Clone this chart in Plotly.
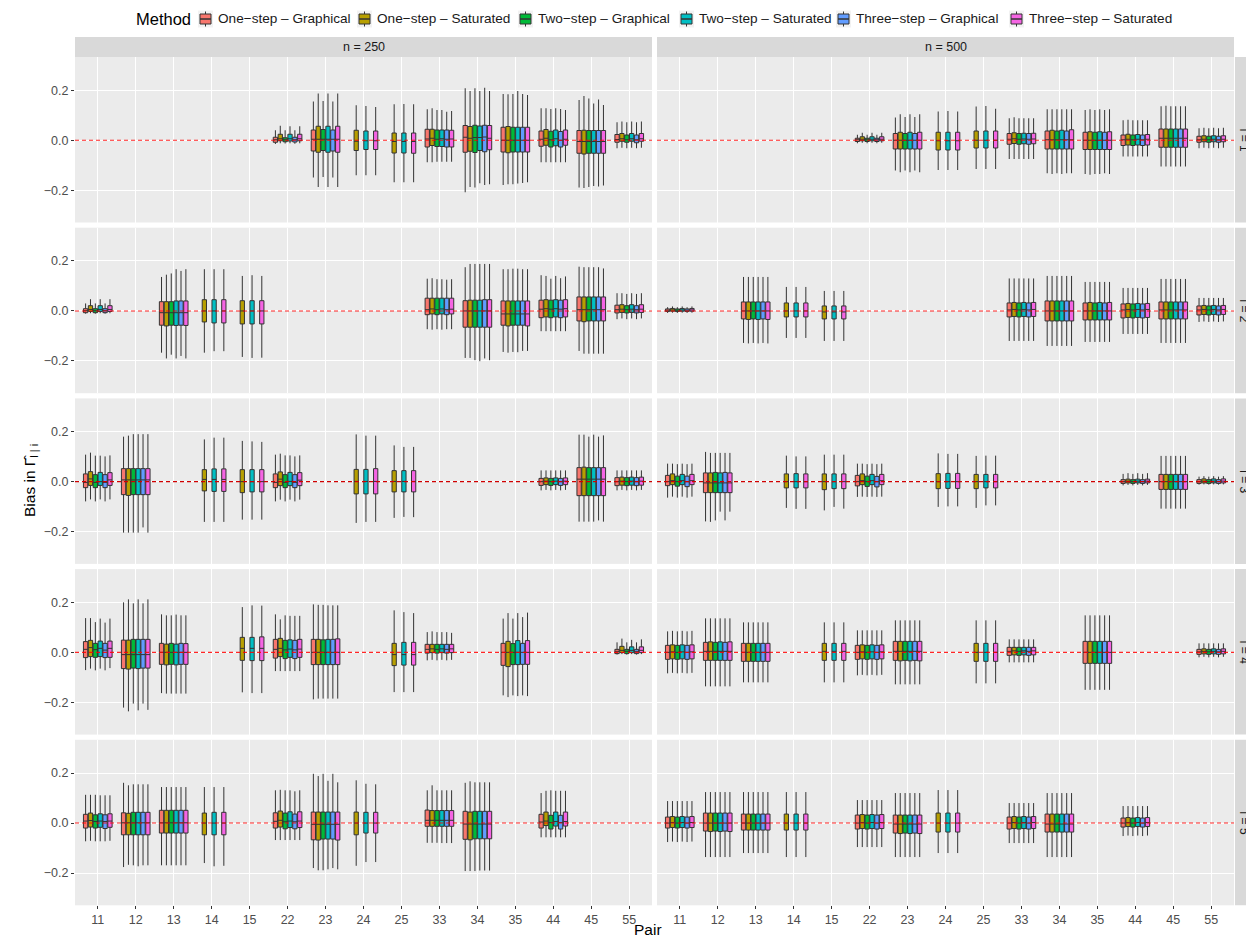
import plotly.graph_objects as go
from plotly.subplots import make_subplots

W, H = 1246, 939

pairs = ["11", "12", "13", "14", "15", "22", "23", "24", "25",
         "33", "34", "35", "44", "45", "55"]
methods = ["One\u2212step \u2013 Graphical", "One\u2212step \u2013 Saturated",
           "Two\u2212step \u2013 Graphical", "Two\u2212step \u2013 Saturated",
           "Three\u2212step \u2013 Graphical", "Three\u2212step \u2013 Saturated"]
colors = ["#F8766D", "#B79F00", "#00BA38", "#00BFC4", "#619CFF", "#F564E3"]
sample_sizes = ["n = 250", "n = 500"]
levels = ["l = 1", "l = 2", "l = 3", "l = 4", "l = 5"]

# Box summaries per pair: one entry per method, [lower whisker, q1, median, q3, upper whisker]
# None = method not reported for that pair.
l1_n250 = {
    "22": [[-0.015, -0.008, 0.002, 0.012, 0.040], [-0.012, -0.002, 0.006, 0.024, 0.058],
           [-0.013, -0.006, 0.002, 0.010, 0.040], [-0.012, -0.003, 0.006, 0.024, 0.056],
           [-0.014, -0.007, 0.002, 0.012, 0.040], [-0.012, -0.002, 0.006, 0.024, 0.056]],
    "23": [[-0.149, -0.043, 0.004, 0.041, 0.155], [-0.187, -0.048, 0.004, 0.056, 0.187],
           [-0.147, -0.041, 0.004, 0.043, 0.157], [-0.187, -0.048, 0.004, 0.056, 0.187],
           [-0.149, -0.043, 0.004, 0.041, 0.155], [-0.187, -0.048, 0.004, 0.056, 0.187]],
    "24": [None, [-0.140, -0.041, -0.004, 0.040, 0.140], None,
           [-0.140, -0.037, -0.002, 0.037, 0.137], None, [-0.140, -0.037, -0.002, 0.037, 0.133]],
    "25": [None, [-0.168, -0.051, -0.005, 0.029, 0.144], None,
           [-0.168, -0.051, -0.005, 0.029, 0.145], None, [-0.168, -0.052, -0.005, 0.029, 0.144]],
    "33": [[-0.088, -0.027, 0.005, 0.044, 0.124], [-0.088, -0.021, 0.008, 0.044, 0.128],
           [-0.086, -0.025, 0.004, 0.041, 0.121], [-0.086, -0.025, 0.006, 0.041, 0.121],
           [-0.086, -0.027, 0.004, 0.041, 0.114], [-0.086, -0.027, 0.005, 0.040, 0.117]],
    "34": [[-0.208, -0.048, 0.012, 0.059, 0.208], [-0.187, -0.044, 0.008, 0.055, 0.197],
           [-0.189, -0.049, 0.011, 0.060, 0.208], [-0.172, -0.041, 0.011, 0.057, 0.197],
           [-0.179, -0.046, 0.013, 0.060, 0.210], [-0.176, -0.038, 0.008, 0.059, 0.197]],
    "35": [[-0.179, -0.047, 0.000, 0.052, 0.185], [-0.176, -0.050, 0.000, 0.055, 0.184],
           [-0.176, -0.047, 0.000, 0.052, 0.185], [-0.173, -0.047, 0.000, 0.052, 0.197],
           [-0.171, -0.047, 0.000, 0.052, 0.185], [-0.168, -0.047, 0.000, 0.052, 0.181]],
    "44": [[-0.088, -0.024, 0.004, 0.037, 0.128], [-0.088, -0.020, 0.008, 0.043, 0.128],
           [-0.088, -0.027, 0.002, 0.036, 0.125], [-0.088, -0.022, 0.006, 0.041, 0.128],
           [-0.088, -0.027, 0.000, 0.035, 0.125], [-0.088, -0.020, 0.004, 0.041, 0.121]],
    "45": [[-0.189, -0.052, -0.005, 0.039, 0.161], [-0.191, -0.055, -0.005, 0.040, 0.177],
           [-0.187, -0.052, -0.005, 0.039, 0.167], [-0.183, -0.052, -0.005, 0.039, 0.147],
           [-0.185, -0.052, -0.005, 0.039, 0.163], [-0.181, -0.052, -0.005, 0.039, 0.141]],
    "55": [[-0.032, -0.008, 0.003, 0.023, 0.072], [-0.030, -0.004, 0.006, 0.027, 0.075],
           [-0.032, -0.008, 0.002, 0.021, 0.072], [-0.030, -0.004, 0.006, 0.027, 0.075],
           [-0.032, -0.010, 0.002, 0.021, 0.072], [-0.030, -0.004, 0.006, 0.027, 0.075]],
}

l1_n500 = {
    "22": [[-0.012, -0.005, 0.002, 0.008, 0.022], [-0.010, -0.002, 0.004, 0.014, 0.030],
           [-0.012, -0.005, 0.002, 0.008, 0.022], [-0.010, -0.002, 0.004, 0.014, 0.030],
           [-0.012, -0.005, 0.002, 0.008, 0.022], [-0.010, -0.002, 0.004, 0.014, 0.030]],
    "23": [[-0.121, -0.035, 0.000, 0.027, 0.091], [-0.128, -0.035, 0.000, 0.032, 0.104],
           [-0.121, -0.035, 0.000, 0.027, 0.093], [-0.128, -0.035, 0.000, 0.032, 0.104],
           [-0.121, -0.035, 0.000, 0.027, 0.093], [-0.128, -0.035, 0.000, 0.032, 0.104]],
    "24": [None, [-0.119, -0.039, -0.002, 0.032, 0.115], None,
           [-0.119, -0.039, -0.002, 0.032, 0.117], None, [-0.119, -0.039, -0.002, 0.032, 0.115]],
    "25": [None, [-0.115, -0.031, 0.000, 0.037, 0.135], None,
           [-0.115, -0.031, 0.000, 0.037, 0.137], None, [-0.115, -0.031, 0.000, 0.037, 0.126]],
    "33": [[-0.075, -0.016, 0.004, 0.027, 0.088], [-0.075, -0.013, 0.006, 0.030, 0.092],
           [-0.075, -0.016, 0.004, 0.027, 0.088], [-0.075, -0.014, 0.005, 0.028, 0.088],
           [-0.075, -0.016, 0.004, 0.027, 0.088], [-0.075, -0.014, 0.005, 0.028, 0.088]],
    "34": [[-0.132, -0.035, 0.002, 0.037, 0.124], [-0.135, -0.035, 0.002, 0.040, 0.124],
           [-0.132, -0.035, 0.002, 0.037, 0.124], [-0.135, -0.035, 0.002, 0.040, 0.124],
           [-0.132, -0.035, 0.002, 0.037, 0.124], [-0.132, -0.035, 0.002, 0.042, 0.124]],
    "35": [[-0.135, -0.037, 0.000, 0.032, 0.121], [-0.138, -0.037, 0.000, 0.034, 0.124],
           [-0.135, -0.037, 0.000, 0.032, 0.121], [-0.135, -0.037, 0.000, 0.034, 0.124],
           [-0.132, -0.037, 0.000, 0.032, 0.121], [-0.135, -0.037, 0.000, 0.034, 0.124]],
    "44": [[-0.065, -0.021, 0.002, 0.021, 0.080], [-0.065, -0.019, 0.004, 0.024, 0.082],
           [-0.065, -0.021, 0.002, 0.021, 0.080], [-0.065, -0.019, 0.004, 0.023, 0.080],
           [-0.065, -0.021, 0.002, 0.021, 0.080], [-0.065, -0.019, 0.004, 0.023, 0.080]],
    "45": [[-0.105, -0.028, 0.008, 0.045, 0.136], [-0.105, -0.028, 0.008, 0.045, 0.138],
           [-0.105, -0.028, 0.008, 0.045, 0.136], [-0.105, -0.028, 0.008, 0.045, 0.136],
           [-0.105, -0.028, 0.008, 0.045, 0.136], [-0.105, -0.028, 0.008, 0.045, 0.136]],
    "55": [[-0.032, -0.008, 0.002, 0.016, 0.048], [-0.030, -0.006, 0.004, 0.018, 0.050],
           [-0.032, -0.008, 0.002, 0.016, 0.048], [-0.030, -0.006, 0.004, 0.018, 0.050],
           [-0.032, -0.008, 0.002, 0.016, 0.048], [-0.030, -0.006, 0.004, 0.018, 0.050]],
}

l2_n250 = {
    "11": [[-0.011, -0.007, 0.001, 0.009, 0.030], [-0.009, -0.002, 0.006, 0.021, 0.047],
           [-0.011, -0.007, 0.001, 0.009, 0.030], [-0.009, -0.002, 0.006, 0.021, 0.047],
           [-0.011, -0.007, 0.001, 0.009, 0.030], [-0.009, -0.002, 0.006, 0.021, 0.047]],
    "13": [[-0.167, -0.057, -0.007, 0.037, 0.136], [-0.190, -0.060, -0.007, 0.037, 0.145],
           [-0.175, -0.057, -0.007, 0.037, 0.150], [-0.190, -0.058, -0.007, 0.040, 0.167],
           [-0.180, -0.057, -0.007, 0.040, 0.160], [-0.190, -0.058, -0.007, 0.040, 0.167]],
    "14": [None, [-0.167, -0.044, 0.000, 0.045, 0.167], None,
           [-0.161, -0.048, 0.000, 0.045, 0.167], None, [-0.161, -0.048, 0.000, 0.045, 0.167]],
    "15": [None, [-0.184, -0.052, 0.000, 0.041, 0.140], None,
           [-0.188, -0.052, 0.000, 0.041, 0.143], None, [-0.187, -0.052, 0.000, 0.041, 0.140]],
    "33": [[-0.073, -0.015, 0.005, 0.051, 0.129], [-0.075, -0.012, 0.008, 0.051, 0.131],
           [-0.073, -0.015, 0.005, 0.051, 0.127], [-0.075, -0.012, 0.008, 0.051, 0.127],
           [-0.073, -0.015, 0.005, 0.051, 0.125], [-0.073, -0.012, 0.007, 0.051, 0.127]],
    "34": [[-0.188, -0.065, 0.000, 0.041, 0.175], [-0.188, -0.065, 0.000, 0.043, 0.188],
           [-0.197, -0.065, 0.000, 0.043, 0.188], [-0.201, -0.065, 0.000, 0.043, 0.188],
           [-0.190, -0.065, 0.000, 0.045, 0.188], [-0.197, -0.065, 0.000, 0.045, 0.188]],
    "35": [[-0.164, -0.057, -0.012, 0.040, 0.167], [-0.167, -0.060, -0.012, 0.040, 0.167],
           [-0.164, -0.057, -0.012, 0.040, 0.169], [-0.165, -0.057, -0.012, 0.040, 0.169],
           [-0.160, -0.057, -0.012, 0.040, 0.167], [-0.160, -0.060, -0.012, 0.040, 0.167]],
    "44": [[-0.081, -0.027, 0.007, 0.043, 0.143], [-0.081, -0.024, 0.009, 0.045, 0.140],
           [-0.081, -0.027, 0.007, 0.043, 0.129], [-0.081, -0.024, 0.009, 0.045, 0.140],
           [-0.081, -0.027, 0.007, 0.043, 0.131], [-0.081, -0.024, 0.009, 0.045, 0.138]],
    "45": [[-0.160, -0.040, 0.005, 0.056, 0.177], [-0.171, -0.043, 0.005, 0.056, 0.175],
           [-0.171, -0.040, 0.005, 0.056, 0.175], [-0.171, -0.040, 0.005, 0.056, 0.175],
           [-0.171, -0.040, 0.005, 0.056, 0.175], [-0.171, -0.040, 0.005, 0.056, 0.170]],
    "55": [[-0.033, -0.008, 0.005, 0.023, 0.071], [-0.030, -0.006, 0.007, 0.025, 0.071],
           [-0.033, -0.008, 0.005, 0.021, 0.068], [-0.030, -0.006, 0.007, 0.025, 0.071],
           [-0.033, -0.008, 0.005, 0.021, 0.068], [-0.030, -0.006, 0.007, 0.025, 0.071]],
}

l2_n500 = {
    "11": [[-0.008, -0.002, 0.003, 0.008, 0.015], [-0.007, -0.001, 0.004, 0.010, 0.018],
           [-0.008, -0.002, 0.003, 0.008, 0.015], [-0.007, -0.001, 0.004, 0.010, 0.018],
           [-0.008, -0.002, 0.003, 0.008, 0.015], [-0.007, -0.001, 0.004, 0.010, 0.018]],
    "13": [[-0.128, -0.032, 0.000, 0.036, 0.136], [-0.130, -0.034, 0.000, 0.036, 0.136],
           [-0.128, -0.032, 0.000, 0.036, 0.136], [-0.130, -0.034, 0.000, 0.036, 0.136],
           [-0.128, -0.032, 0.000, 0.036, 0.136], [-0.130, -0.034, 0.000, 0.036, 0.136]],
    "14": [None, [-0.108, -0.024, 0.000, 0.032, 0.096], None,
           [-0.108, -0.024, 0.000, 0.032, 0.096], None, [-0.108, -0.024, 0.000, 0.032, 0.096]],
    "15": [None, [-0.120, -0.032, -0.004, 0.020, 0.080], None,
           [-0.120, -0.032, -0.004, 0.020, 0.080], None, [-0.120, -0.032, -0.004, 0.020, 0.080]],
    "33": [[-0.120, -0.024, 0.004, 0.032, 0.130], [-0.120, -0.022, 0.006, 0.034, 0.130],
           [-0.120, -0.024, 0.004, 0.032, 0.130], [-0.120, -0.022, 0.006, 0.034, 0.130],
           [-0.120, -0.024, 0.004, 0.032, 0.130], [-0.120, -0.022, 0.006, 0.034, 0.130]],
    "34": [[-0.140, -0.040, 0.000, 0.040, 0.140], [-0.140, -0.040, 0.000, 0.040, 0.140],
           [-0.140, -0.040, 0.000, 0.040, 0.140], [-0.140, -0.040, 0.000, 0.040, 0.140],
           [-0.140, -0.040, 0.000, 0.040, 0.140], [-0.140, -0.040, 0.000, 0.040, 0.140]],
    "35": [[-0.124, -0.036, 0.000, 0.032, 0.116], [-0.124, -0.036, 0.000, 0.034, 0.116],
           [-0.124, -0.036, 0.000, 0.032, 0.116], [-0.124, -0.036, 0.000, 0.034, 0.116],
           [-0.124, -0.036, 0.000, 0.032, 0.116], [-0.124, -0.036, 0.000, 0.034, 0.116]],
    "44": [[-0.092, -0.028, 0.004, 0.028, 0.092], [-0.092, -0.026, 0.006, 0.030, 0.092],
           [-0.092, -0.028, 0.004, 0.028, 0.092], [-0.092, -0.026, 0.006, 0.030, 0.092],
           [-0.092, -0.028, 0.004, 0.028, 0.092], [-0.092, -0.026, 0.006, 0.030, 0.092]],
    "45": [[-0.128, -0.032, 0.004, 0.036, 0.128], [-0.128, -0.032, 0.004, 0.036, 0.128],
           [-0.128, -0.032, 0.004, 0.036, 0.128], [-0.128, -0.032, 0.004, 0.036, 0.128],
           [-0.128, -0.032, 0.004, 0.036, 0.128], [-0.128, -0.032, 0.004, 0.036, 0.128]],
    "55": [[-0.044, -0.016, 0.004, 0.020, 0.052], [-0.042, -0.014, 0.006, 0.022, 0.052],
           [-0.044, -0.016, 0.004, 0.020, 0.052], [-0.042, -0.014, 0.006, 0.022, 0.052],
           [-0.044, -0.016, 0.004, 0.020, 0.052], [-0.042, -0.014, 0.006, 0.022, 0.052]],
}

l3_n250 = {
    "11": [[-0.079, -0.024, -0.003, 0.031, 0.108], [-0.071, -0.015, 0.011, 0.040, 0.116],
           [-0.079, -0.024, -0.003, 0.028, 0.104], [-0.071, -0.015, 0.000, 0.037, 0.104],
           [-0.079, -0.024, -0.003, 0.028, 0.101], [-0.071, -0.015, 0.007, 0.036, 0.105]],
    "12": [[-0.204, -0.052, 0.007, 0.052, 0.180], [-0.204, -0.055, 0.007, 0.052, 0.184],
           [-0.204, -0.052, 0.007, 0.052, 0.190], [-0.204, -0.052, 0.007, 0.052, 0.190],
           [-0.183, -0.052, 0.007, 0.052, 0.190], [-0.204, -0.052, 0.007, 0.052, 0.190]],
    "14": [None, [-0.161, -0.037, 0.009, 0.048, 0.169], None,
           [-0.161, -0.039, 0.009, 0.051, 0.176], None, [-0.161, -0.039, 0.009, 0.051, 0.176]],
    "15": [None, [-0.152, -0.044, 0.000, 0.048, 0.163], None,
           [-0.152, -0.041, 0.000, 0.048, 0.161], None, [-0.152, -0.041, 0.000, 0.048, 0.159]],
    "22": [[-0.079, -0.024, -0.003, 0.031, 0.108], [-0.072, -0.016, 0.010, 0.039, 0.112],
           [-0.079, -0.024, -0.003, 0.028, 0.105], [-0.072, -0.016, 0.001, 0.037, 0.105],
           [-0.079, -0.024, -0.003, 0.028, 0.101], [-0.072, -0.016, 0.006, 0.036, 0.105]],
    "24": [None, [-0.165, -0.049, 0.001, 0.049, 0.189], None,
           [-0.161, -0.049, 0.001, 0.049, 0.184], None, [-0.161, -0.049, 0.001, 0.052, 0.184]],
    "25": [None, [-0.145, -0.041, 0.001, 0.044, 0.145], None,
           [-0.141, -0.041, 0.001, 0.044, 0.139], None, [-0.142, -0.041, 0.001, 0.044, 0.139]],
    "44": [[-0.035, -0.015, 0.000, 0.013, 0.045], [-0.033, -0.012, 0.002, 0.015, 0.045],
           [-0.035, -0.015, 0.000, 0.013, 0.045], [-0.033, -0.012, 0.002, 0.015, 0.045],
           [-0.035, -0.015, 0.000, 0.013, 0.045], [-0.033, -0.012, 0.002, 0.015, 0.045]],
    "45": [[-0.160, -0.056, 0.010, 0.056, 0.188], [-0.160, -0.056, 0.010, 0.058, 0.188],
           [-0.160, -0.056, 0.010, 0.056, 0.180], [-0.160, -0.056, 0.010, 0.056, 0.188],
           [-0.155, -0.056, 0.010, 0.056, 0.180], [-0.160, -0.056, 0.010, 0.056, 0.185]],
    "55": [[-0.035, -0.016, 0.000, 0.016, 0.045], [-0.033, -0.014, 0.002, 0.018, 0.045],
           [-0.035, -0.016, 0.000, 0.016, 0.045], [-0.033, -0.014, 0.002, 0.018, 0.045],
           [-0.035, -0.016, 0.000, 0.016, 0.045], [-0.033, -0.014, 0.002, 0.018, 0.045]],
}

l3_n500 = {
    "11": [[-0.064, -0.016, 0.000, 0.025, 0.072], [-0.060, -0.012, 0.004, 0.031, 0.072],
           [-0.064, -0.018, 0.000, 0.022, 0.070], [-0.060, -0.012, 0.004, 0.029, 0.072],
           [-0.064, -0.020, 0.000, 0.022, 0.070], [-0.060, -0.012, 0.004, 0.029, 0.072]],
    "12": [[-0.159, -0.044, -0.005, 0.035, 0.119], [-0.161, -0.044, -0.005, 0.035, 0.115],
           [-0.155, -0.044, -0.005, 0.037, 0.115], [-0.120, -0.044, -0.005, 0.035, 0.115],
           [-0.155, -0.044, -0.005, 0.037, 0.115], [-0.120, -0.044, -0.005, 0.035, 0.115]],
    "14": [None, [-0.105, -0.025, 0.000, 0.031, 0.104], None,
           [-0.109, -0.025, 0.000, 0.032, 0.101], None, [-0.109, -0.025, 0.000, 0.031, 0.101]],
    "15": [None, [-0.115, -0.032, 0.000, 0.031, 0.108], None,
           [-0.101, -0.028, 0.000, 0.031, 0.108], None, [-0.108, -0.028, 0.000, 0.031, 0.108]],
    "22": [[-0.061, -0.017, 0.000, 0.025, 0.072], [-0.060, -0.012, 0.004, 0.031, 0.072],
           [-0.061, -0.019, 0.000, 0.022, 0.070], [-0.060, -0.012, 0.004, 0.029, 0.072],
           [-0.061, -0.021, 0.000, 0.021, 0.070], [-0.060, -0.012, 0.004, 0.029, 0.072]],
    "24": [None, [-0.101, -0.028, 0.000, 0.032, 0.113], None,
           [-0.099, -0.027, 0.000, 0.033, 0.111], None, [-0.099, -0.027, 0.000, 0.033, 0.111]],
    "25": [None, [-0.105, -0.028, 0.000, 0.029, 0.103], None,
           [-0.095, -0.025, 0.000, 0.029, 0.104], None, [-0.095, -0.025, 0.000, 0.029, 0.104]],
    "44": [[-0.015, -0.007, 0.000, 0.008, 0.031], [-0.013, -0.005, 0.002, 0.010, 0.034],
           [-0.015, -0.007, 0.000, 0.008, 0.031], [-0.013, -0.005, 0.002, 0.010, 0.034],
           [-0.015, -0.007, 0.000, 0.008, 0.031], [-0.013, -0.005, 0.002, 0.010, 0.034]],
    "45": [[-0.108, -0.031, 0.000, 0.029, 0.103], [-0.108, -0.031, 0.000, 0.029, 0.103],
           [-0.108, -0.031, 0.000, 0.029, 0.103], [-0.108, -0.031, 0.000, 0.029, 0.103],
           [-0.108, -0.031, 0.000, 0.029, 0.103], [-0.108, -0.031, 0.000, 0.029, 0.103]],
    "55": [[-0.012, -0.007, 0.000, 0.008, 0.020], [-0.011, -0.005, 0.002, 0.011, 0.022],
           [-0.012, -0.007, 0.000, 0.008, 0.020], [-0.011, -0.005, 0.002, 0.011, 0.022],
           [-0.012, -0.007, 0.000, 0.008, 0.020], [-0.011, -0.005, 0.002, 0.011, 0.022]],
}

l4_n250 = {
    "11": [[-0.071, -0.021, 0.012, 0.043, 0.137], [-0.065, -0.017, 0.019, 0.048, 0.137],
           [-0.072, -0.020, 0.011, 0.036, 0.121], [-0.065, -0.017, 0.016, 0.045, 0.135],
           [-0.072, -0.021, 0.009, 0.036, 0.119], [-0.063, -0.020, 0.016, 0.045, 0.135]],
    "12": [[-0.221, -0.065, -0.009, 0.049, 0.200], [-0.236, -0.067, -0.009, 0.049, 0.212],
           [-0.205, -0.063, -0.009, 0.052, 0.196], [-0.232, -0.065, -0.009, 0.052, 0.212],
           [-0.205, -0.063, -0.009, 0.052, 0.196], [-0.230, -0.063, -0.009, 0.052, 0.212]],
    "13": [[-0.163, -0.048, 0.000, 0.036, 0.152], [-0.165, -0.050, 0.000, 0.033, 0.148],
           [-0.165, -0.048, 0.000, 0.036, 0.148], [-0.165, -0.050, 0.000, 0.033, 0.151],
           [-0.165, -0.048, 0.000, 0.036, 0.148], [-0.165, -0.048, 0.000, 0.035, 0.148]],
    "15": [None, [-0.160, -0.032, 0.016, 0.060, 0.181], None,
           [-0.163, -0.033, 0.016, 0.060, 0.188], None, [-0.163, -0.033, 0.016, 0.062, 0.187]],
    "22": [[-0.075, -0.023, 0.012, 0.052, 0.152], [-0.075, -0.017, 0.016, 0.056, 0.132],
           [-0.075, -0.025, 0.010, 0.048, 0.148], [-0.075, -0.020, 0.013, 0.050, 0.146],
           [-0.075, -0.025, 0.010, 0.048, 0.146], [-0.075, -0.020, 0.013, 0.052, 0.146]],
    "23": [[-0.188, -0.049, 0.000, 0.052, 0.192], [-0.185, -0.049, 0.000, 0.052, 0.190],
           [-0.185, -0.049, 0.000, 0.050, 0.190], [-0.185, -0.049, 0.000, 0.052, 0.188],
           [-0.185, -0.049, 0.000, 0.052, 0.188], [-0.185, -0.049, 0.000, 0.054, 0.188]],
    "25": [None, [-0.159, -0.053, -0.009, 0.036, 0.168], None,
           [-0.159, -0.051, -0.009, 0.040, 0.161], None, [-0.159, -0.051, -0.009, 0.040, 0.157]],
    "33": [[-0.032, -0.003, 0.012, 0.032, 0.081], [-0.030, -0.001, 0.014, 0.032, 0.084],
           [-0.032, -0.003, 0.012, 0.032, 0.081], [-0.030, -0.001, 0.014, 0.032, 0.081],
           [-0.032, -0.003, 0.012, 0.032, 0.081], [-0.030, -0.001, 0.014, 0.032, 0.078]],
    "35": [[-0.172, -0.052, 0.000, 0.036, 0.135], [-0.179, -0.057, 0.000, 0.044, 0.157],
           [-0.172, -0.049, 0.000, 0.035, 0.135], [-0.175, -0.049, 0.000, 0.047, 0.157],
           [-0.172, -0.048, 0.000, 0.036, 0.141], [-0.175, -0.048, 0.000, 0.047, 0.159]],
    "55": [[-0.009, -0.005, 0.004, 0.012, 0.040], [-0.007, -0.001, 0.008, 0.024, 0.055],
           [-0.009, -0.005, 0.004, 0.012, 0.040], [-0.007, -0.001, 0.008, 0.022, 0.050],
           [-0.009, -0.005, 0.004, 0.012, 0.040], [-0.007, -0.001, 0.008, 0.022, 0.052]],
}

l4_n500 = {
    "11": [[-0.084, -0.028, 0.000, 0.028, 0.084], [-0.082, -0.026, 0.002, 0.030, 0.086],
           [-0.084, -0.028, 0.000, 0.028, 0.084], [-0.082, -0.026, 0.002, 0.030, 0.086],
           [-0.084, -0.028, 0.000, 0.028, 0.084], [-0.082, -0.026, 0.002, 0.030, 0.086]],
    "12": [[-0.136, -0.032, 0.004, 0.040, 0.136], [-0.136, -0.032, 0.004, 0.042, 0.136],
           [-0.136, -0.032, 0.004, 0.040, 0.136], [-0.136, -0.032, 0.004, 0.042, 0.136],
           [-0.136, -0.032, 0.004, 0.040, 0.136], [-0.136, -0.032, 0.004, 0.042, 0.136]],
    "13": [[-0.120, -0.036, 0.000, 0.036, 0.120], [-0.120, -0.036, 0.000, 0.036, 0.120],
           [-0.120, -0.036, 0.000, 0.036, 0.120], [-0.120, -0.036, 0.000, 0.036, 0.120],
           [-0.120, -0.036, 0.000, 0.036, 0.120], [-0.120, -0.036, 0.000, 0.036, 0.120]],
    "15": [None, [-0.120, -0.032, 0.004, 0.036, 0.120], None,
           [-0.120, -0.032, 0.004, 0.036, 0.120], None, [-0.120, -0.032, 0.004, 0.036, 0.120]],
    "22": [[-0.092, -0.028, 0.000, 0.028, 0.088], [-0.090, -0.026, 0.002, 0.030, 0.088],
           [-0.092, -0.028, 0.000, 0.028, 0.088], [-0.090, -0.026, 0.002, 0.030, 0.088],
           [-0.092, -0.028, 0.000, 0.028, 0.088], [-0.090, -0.026, 0.002, 0.030, 0.088]],
    "23": [[-0.128, -0.032, 0.004, 0.044, 0.128], [-0.128, -0.034, 0.004, 0.044, 0.128],
           [-0.128, -0.032, 0.004, 0.044, 0.128], [-0.128, -0.034, 0.004, 0.044, 0.128],
           [-0.128, -0.032, 0.004, 0.044, 0.128], [-0.128, -0.034, 0.004, 0.044, 0.128]],
    "25": [None, [-0.124, -0.036, 0.000, 0.036, 0.128], None,
           [-0.124, -0.036, 0.000, 0.036, 0.128], None, [-0.124, -0.036, 0.000, 0.036, 0.128]],
    "33": [[-0.040, -0.012, 0.004, 0.020, 0.052], [-0.040, -0.010, 0.006, 0.020, 0.052],
           [-0.040, -0.012, 0.004, 0.020, 0.052], [-0.040, -0.010, 0.006, 0.020, 0.052],
           [-0.040, -0.012, 0.004, 0.020, 0.052], [-0.040, -0.010, 0.006, 0.020, 0.052]],
    "35": [[-0.150, -0.044, 0.000, 0.044, 0.148], [-0.150, -0.044, 0.000, 0.044, 0.148],
           [-0.150, -0.044, 0.000, 0.044, 0.148], [-0.150, -0.044, 0.000, 0.044, 0.148],
           [-0.150, -0.044, 0.000, 0.044, 0.148], [-0.150, -0.044, 0.000, 0.044, 0.148]],
    "55": [[-0.020, -0.008, 0.002, 0.012, 0.036], [-0.018, -0.006, 0.004, 0.014, 0.036],
           [-0.020, -0.008, 0.002, 0.012, 0.036], [-0.018, -0.006, 0.004, 0.014, 0.036],
           [-0.020, -0.008, 0.002, 0.012, 0.036], [-0.018, -0.006, 0.004, 0.014, 0.036]],
}

l5_n250 = {
    "11": [[-0.073, -0.020, 0.008, 0.035, 0.113], [-0.071, -0.016, 0.010, 0.040, 0.113],
           [-0.073, -0.020, 0.006, 0.033, 0.113], [-0.073, -0.017, 0.008, 0.037, 0.111],
           [-0.073, -0.022, 0.006, 0.033, 0.111], [-0.071, -0.017, 0.008, 0.037, 0.111]],
    "12": [[-0.176, -0.047, 0.001, 0.041, 0.161], [-0.167, -0.047, 0.001, 0.039, 0.151],
           [-0.169, -0.047, 0.001, 0.043, 0.155], [-0.173, -0.047, 0.001, 0.043, 0.155],
           [-0.169, -0.047, 0.001, 0.043, 0.155], [-0.169, -0.047, 0.001, 0.043, 0.155]],
    "13": [[-0.169, -0.040, 0.001, 0.051, 0.144], [-0.169, -0.040, 0.001, 0.051, 0.144],
           [-0.169, -0.040, 0.001, 0.051, 0.144], [-0.169, -0.040, 0.001, 0.051, 0.144],
           [-0.169, -0.040, 0.001, 0.051, 0.144], [-0.169, -0.040, 0.001, 0.051, 0.144]],
    "14": [None, [-0.160, -0.047, 0.000, 0.040, 0.144], None,
           [-0.173, -0.047, 0.000, 0.043, 0.144], None, [-0.171, -0.047, 0.000, 0.043, 0.144]],
    "22": [[-0.068, -0.020, 0.007, 0.041, 0.131], [-0.068, -0.016, 0.011, 0.048, 0.133],
           [-0.068, -0.023, 0.005, 0.040, 0.131], [-0.068, -0.018, 0.008, 0.045, 0.131],
           [-0.068, -0.023, 0.005, 0.036, 0.127], [-0.068, -0.018, 0.008, 0.045, 0.131]],
    "23": [[-0.180, -0.067, -0.005, 0.044, 0.197], [-0.189, -0.068, -0.005, 0.044, 0.188],
           [-0.189, -0.064, -0.005, 0.044, 0.197], [-0.185, -0.064, -0.005, 0.044, 0.169],
           [-0.180, -0.064, -0.005, 0.044, 0.197], [-0.185, -0.068, -0.005, 0.044, 0.163]],
    "24": [None, [-0.171, -0.047, 0.000, 0.044, 0.171], None,
           [-0.156, -0.040, 0.000, 0.043, 0.157], None, [-0.156, -0.040, 0.000, 0.043, 0.155]],
    "33": [[-0.079, -0.013, 0.011, 0.052, 0.131], [-0.079, -0.013, 0.011, 0.050, 0.151],
           [-0.079, -0.013, 0.011, 0.050, 0.131], [-0.080, -0.013, 0.011, 0.050, 0.131],
           [-0.080, -0.013, 0.011, 0.050, 0.131], [-0.080, -0.013, 0.011, 0.050, 0.131]],
    "34": [[-0.192, -0.065, -0.004, 0.047, 0.161], [-0.192, -0.067, -0.004, 0.044, 0.167],
           [-0.192, -0.063, -0.004, 0.047, 0.163], [-0.190, -0.063, -0.004, 0.047, 0.163],
           [-0.190, -0.063, -0.004, 0.047, 0.163], [-0.190, -0.063, -0.004, 0.047, 0.163]],
    "44": [[-0.057, -0.020, 0.004, 0.035, 0.120], [-0.057, -0.010, 0.008, 0.044, 0.129],
           [-0.057, -0.024, 0.002, 0.031, 0.131], [-0.057, -0.012, 0.006, 0.044, 0.129],
           [-0.057, -0.024, 0.002, 0.031, 0.129], [-0.057, -0.012, 0.006, 0.044, 0.129]],
}

l5_n500 = {
    "11": [[-0.076, -0.020, 0.000, 0.024, 0.088], [-0.074, -0.018, 0.002, 0.026, 0.088],
           [-0.076, -0.020, 0.000, 0.024, 0.088], [-0.074, -0.018, 0.002, 0.026, 0.088],
           [-0.076, -0.020, 0.000, 0.024, 0.088], [-0.074, -0.018, 0.002, 0.026, 0.088]],
    "12": [[-0.136, -0.032, 0.000, 0.040, 0.124], [-0.136, -0.034, 0.000, 0.040, 0.124],
           [-0.136, -0.032, 0.000, 0.040, 0.124], [-0.136, -0.034, 0.000, 0.040, 0.124],
           [-0.136, -0.032, 0.000, 0.040, 0.124], [-0.136, -0.034, 0.000, 0.040, 0.124]],
    "13": [[-0.120, -0.028, 0.000, 0.036, 0.124], [-0.120, -0.028, 0.000, 0.036, 0.124],
           [-0.120, -0.028, 0.000, 0.036, 0.124], [-0.120, -0.028, 0.000, 0.036, 0.124],
           [-0.120, -0.028, 0.000, 0.036, 0.124], [-0.120, -0.028, 0.000, 0.036, 0.124]],
    "14": [None, [-0.136, -0.028, 0.000, 0.036, 0.124], None,
           [-0.136, -0.028, 0.000, 0.036, 0.124], None, [-0.136, -0.028, 0.000, 0.036, 0.124]],
    "22": [[-0.096, -0.024, 0.000, 0.032, 0.092], [-0.096, -0.022, 0.002, 0.034, 0.092],
           [-0.096, -0.024, 0.000, 0.032, 0.092], [-0.096, -0.022, 0.002, 0.034, 0.092],
           [-0.096, -0.024, 0.000, 0.032, 0.092], [-0.096, -0.022, 0.002, 0.034, 0.092]],
    "23": [[-0.136, -0.040, -0.004, 0.032, 0.120], [-0.136, -0.042, -0.004, 0.032, 0.120],
           [-0.136, -0.040, -0.004, 0.032, 0.120], [-0.136, -0.042, -0.004, 0.032, 0.120],
           [-0.136, -0.040, -0.004, 0.032, 0.120], [-0.136, -0.042, -0.004, 0.032, 0.120]],
    "24": [None, [-0.120, -0.036, 0.000, 0.040, 0.132], None,
           [-0.120, -0.036, 0.000, 0.040, 0.132], None, [-0.120, -0.036, 0.000, 0.040, 0.132]],
    "33": [[-0.080, -0.024, 0.000, 0.024, 0.080], [-0.080, -0.022, 0.002, 0.026, 0.080],
           [-0.080, -0.024, 0.000, 0.024, 0.080], [-0.080, -0.022, 0.002, 0.026, 0.080],
           [-0.080, -0.024, 0.000, 0.024, 0.080], [-0.080, -0.022, 0.002, 0.026, 0.080]],
    "34": [[-0.136, -0.036, -0.004, 0.036, 0.120], [-0.136, -0.036, -0.004, 0.036, 0.120],
           [-0.136, -0.036, -0.004, 0.036, 0.120], [-0.136, -0.036, -0.004, 0.036, 0.120],
           [-0.136, -0.036, -0.004, 0.036, 0.120], [-0.136, -0.036, -0.004, 0.036, 0.120]],
    "44": [[-0.052, -0.016, 0.000, 0.020, 0.068], [-0.050, -0.014, 0.002, 0.022, 0.068],
           [-0.052, -0.016, 0.000, 0.020, 0.068], [-0.050, -0.014, 0.002, 0.022, 0.068],
           [-0.052, -0.016, 0.000, 0.020, 0.068], [-0.050, -0.014, 0.002, 0.022, 0.068]],
}

panels = [[l1_n250, l1_n500], [l2_n250, l2_n500], [l3_n250, l3_n500],
          [l4_n250, l4_n500], [l5_n250, l5_n500]]

FONT = "Liberation Sans, Arial, sans-serif"
BG = "#EBEBEB"
STRIP = "#D9D9D9"

# panel geometry in pixels
col_x = [(75, 652), (657, 1234)]
row_top0, row_h, row_step = 57, 165.5, 170.7
# legend key left edges (pixels) and legend row centre
key_left = [198, 357, 518, 679, 836, 1009]
legend_y = 19


def px_x(v):
    return v / W


def px_y(v):
    return 1 - v / H


fig = make_subplots(rows=5, cols=2)

for r in range(5):
    for c in range(2):
        data = panels[r][c]
        for m in range(6):
            xs, lo, q1, md, q3, hi = [], [], [], [], [], []
            for i, p in enumerate(pairs):
                entry = data.get(p)
                if entry is None or entry[m] is None:
                    continue
                s = entry[m]
                xs.append(i)
                lo.append(s[0]); q1.append(s[1]); md.append(s[2])
                q3.append(s[3]); hi.append(s[4])
            fig.add_trace(
                go.Box(
                    x=xs, q1=q1, median=md, q3=q3,
                    lowerfence=lo, upperfence=hi,
                    orientation="v",
                    name=methods[m], showlegend=False,
                    offsetgroup=str(m),
                    fillcolor=colors[m],
                    line=dict(color="#333333", width=1),
                    whiskerwidth=0,
                    boxpoints=False,
                    hoverinfo="skip",
                ),
                row=r + 1, col=c + 1,
            )

layout_axes = {}
shapes = []
annotations = []
for r in range(5):
    top = row_top0 + r * row_step
    bottom = top + row_h
    for c in range(2):
        k = r * 2 + c + 1
        sfx = "" if k == 1 else str(k)
        x0, x1 = col_x[c]
        layout_axes["xaxis" + sfx] = dict(
            domain=[px_x(x0), px_x(x1)], range=[-0.6, 14.6],
            tickmode="array", tickvals=list(range(len(pairs))), ticktext=pairs,
            showticklabels=(r == 4), ticks="outside" if r == 4 else "",
            ticklen=3, tickcolor="#333333",
            tickfont=dict(family=FONT, size=12.5, color="#4D4D4D"),
            showgrid=True, gridcolor="white", gridwidth=1.1,
            zeroline=False, showline=False,
            anchor="y" + sfx, fixedrange=True,
        )
        layout_axes["yaxis" + sfx] = dict(
            domain=[px_y(bottom), px_y(top)], range=[-0.329, 0.333],
            tickmode="array", tickvals=[-0.2, 0.0, 0.2],
            ticktext=["\u22120.2", "0.0", "0.2"],
            showticklabels=(c == 0), ticks="outside" if c == 0 else "",
            ticklen=3, tickcolor="#333333",
            tickfont=dict(family=FONT, size=12.5, color="#4D4D4D"),
            showgrid=True, gridcolor="white", gridwidth=1.1,
            zeroline=False, showline=False,
            anchor="x" + sfx, fixedrange=True,
        )
        # zero reference line
        shapes.append(dict(
            type="line", xref=f"x{sfx} domain", x0=0, x1=1,
            yref=f"y{sfx}", y0=0, y1=0, layer="above",
            line=dict(color="#D00000" if r == 2 else "rgba(255,0,0,0.85)",
                      width=1.1, dash="4px,3px"),
        ))
    # right-hand strip for l
    shapes.append(dict(
        type="rect", xref="paper", yref="paper",
        x0=px_x(1235), x1=px_x(1262), y0=px_y(bottom), y1=px_y(top),
        fillcolor=STRIP, line=dict(width=0), layer="below",
    ))
    annotations.append(dict(
        text=levels[r], xref="paper", yref="paper",
        x=px_x(1244), y=px_y((top + bottom) / 2), showarrow=False,
        textangle=90, xanchor="center", yanchor="middle",
        font=dict(family=FONT, size=12, color="#1A1A1A"),
    ))

# top strips for n
for c in range(2):
    x0, x1 = col_x[c]
    shapes.append(dict(
        type="rect", xref="paper", yref="paper",
        x0=px_x(x0), x1=px_x(x1), y0=px_y(57), y1=px_y(37),
        fillcolor=STRIP, line=dict(width=0), layer="below",
    ))
    annotations.append(dict(
        text=sample_sizes[c], xref="paper", yref="paper",
        x=px_x((x0 + x1) / 2), y=px_y(47), showarrow=False,
        xanchor="center", yanchor="middle",
        font=dict(family=FONT, size=12.5, color="#1A1A1A"),
    ))

# legend drawn as boxplot keys with labels
annotations.append(dict(
    text="Method", xref="paper", yref="paper", x=px_x(134), y=px_y(legend_y),
    showarrow=False, xanchor="left", yanchor="middle",
    font=dict(family=FONT, size=16.5, color="black"),
))
for m in range(6):
    kx = key_left[m]
    shapes.append(dict(type="rect", xref="paper", yref="paper",
                       x0=px_x(kx), x1=px_x(kx + 15),
                       y0=px_y(legend_y + 8.5), y1=px_y(legend_y - 8.5),
                       fillcolor="#F2F2F2", line=dict(width=0)))
    shapes.append(dict(type="line", xref="paper", yref="paper",
                       x0=px_x(kx + 7.5), x1=px_x(kx + 7.5),
                       y0=px_y(legend_y - 7.5), y1=px_y(legend_y + 7.5),
                       line=dict(color="#333333", width=1)))
    shapes.append(dict(type="rect", xref="paper", yref="paper",
                       x0=px_x(kx + 2), x1=px_x(kx + 13),
                       y0=px_y(legend_y + 5), y1=px_y(legend_y - 5),
                       fillcolor=colors[m], line=dict(color="#333333", width=1)))
    shapes.append(dict(type="line", xref="paper", yref="paper",
                       x0=px_x(kx + 2), x1=px_x(kx + 13),
                       y0=px_y(legend_y), y1=px_y(legend_y),
                       line=dict(color="#333333", width=1.5)))
    annotations.append(dict(
        text=methods[m], xref="paper", yref="paper",
        x=px_x(kx + 18), y=px_y(legend_y), showarrow=False,
        xanchor="left", yanchor="middle",
        font=dict(family=FONT, size=13.6, color="#1A1A1A"),
    ))

# axis titles
annotations.append(dict(
    text="Pair", xref="paper", yref="paper", x=px_x(648), y=px_y(929),
    showarrow=False, xanchor="center", yanchor="middle",
    font=dict(family=FONT, size=15.5, color="black"),
))
annotations.append(dict(
    text="Bias in \u0393\u0302<sub>l | i</sub>", xref="paper", yref="paper",
    x=px_x(30), y=px_y(481), showarrow=False, textangle=-90,
    xanchor="center", yanchor="middle",
    font=dict(family=FONT, size=15.5, color="black"),
))

fig.update_layout(
    width=W, height=H,
    margin=dict(l=0, r=0, t=0, b=0),
    paper_bgcolor="white", plot_bgcolor=BG,
    boxmode="group", boxgap=0.23, boxgroupgap=0.12,
    font=dict(family=FONT, size=12, color="#1A1A1A"),
    showlegend=False,
    shapes=shapes,
    annotations=annotations,
    **layout_axes,
)

fig.write_html("out.html")
